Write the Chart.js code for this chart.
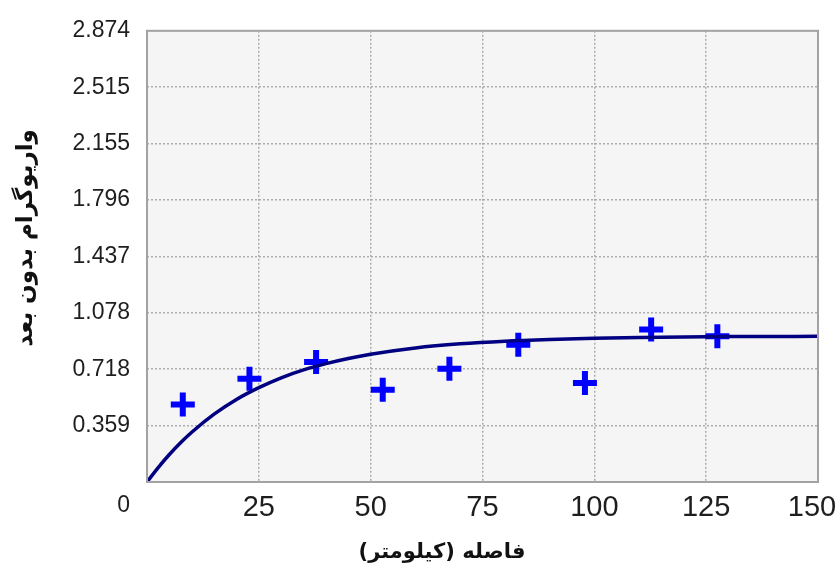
<!DOCTYPE html>
<html>
<head>
<meta charset="utf-8">
<script src="https://cdn.jsdelivr.net/npm/chart.js@4/dist/chart.umd.min.js"></script>
<style>
  html, body { margin: 0; padding: 0; background: #ffffff; }
  #wrap { width: 839px; height: 570px; position: relative; }
</style>
</head>
<body>
<div id="wrap"><canvas id="chart"></canvas></div>
<script>
// Experimental variogram (lag distance in km, dimensionless semivariance)
const lagKm = [8.0, 22.9, 37.8, 52.7, 67.6, 83.0, 97.9, 112.7, 127.5];
const gammaObs = [0.494, 0.658, 0.764, 0.588, 0.722, 0.875, 0.630, 0.971, 0.928];

// Fitted model curve, sampled along the distance axis
const modelKm = [0, 2.5, 5, 7.5, 10, 15, 20, 25, 30, 35, 40, 45, 50, 60, 70, 80, 90, 100, 110, 120, 130, 140, 150];
const modelGamma = [0, 0.092, 0.175, 0.250, 0.317, 0.432, 0.526, 0.601, 0.664, 0.714, 0.754, 0.787, 0.814, 0.854, 0.880, 0.897, 0.908, 0.916, 0.921, 0.924, 0.926, 0.927, 0.928];

// Axis ticks
const xTicks = [0, 25, 50, 75, 100, 125, 150];
const yTickValues = [0, 0.35925, 0.7185, 1.07775, 1.437, 1.79625, 2.1555, 2.51475, 2.874];
const yTickLabels = ['0', '0.359', '0.718', '1.078', '1.437', '1.796', '2.155', '2.515', '2.874'];

const xTitle = 'فاصله (کیلومتر)';
const yTitle = 'واریوگرام بدون بعد';

const tickFontFamily = '"Liberation Sans", Arial, sans-serif';

const frameAndTitles = {
  id: 'frameAndTitles',
  beforeDraw(chart) {
    const { ctx, chartArea: a } = chart;
    // keep the last distance label inside the canvas
    const items = chart.scales.x.getLabelItems();
    const last = items[items.length - 1];
    if (last && !last._nudged) {
      last.options.translation[0] -= 6;
      last._nudged = true;
    }
    // light plot background
    ctx.save();
    ctx.fillStyle = '#f5f5f5';
    ctx.fillRect(a.left, a.top, a.right - a.left, a.bottom - a.top);
    ctx.restore();
  },
  afterDraw(chart) {
    const { ctx, chartArea: a } = chart;
    ctx.save();
    // plot frame
    ctx.strokeStyle = '#a3a3a3';
    ctx.lineWidth = 2;
    ctx.strokeRect(a.left, a.top, a.right - a.left, a.bottom - a.top);

    // shared origin label
    ctx.fillStyle = '#1e1e1e';
    ctx.font = '23px ' + tickFontFamily;
    ctx.textAlign = 'right';
    ctx.textBaseline = 'middle';
    ctx.fillText(yTickLabels[0], 130, a.bottom + 24);

    // axis titles
    ctx.fillStyle = '#111111';
    ctx.textAlign = 'center';
    ctx.textBaseline = 'middle';
    ctx.direction = 'rtl';
    ctx.font = 'bold 21px "DejaVu Sans", sans-serif';
    ctx.fillText(xTitle, 442, 553);
    ctx.font = 'bold 23px "DejaVu Sans", sans-serif';
    ctx.translate(26, 238);
    ctx.rotate(-Math.PI / 2);
    ctx.fillText(yTitle, 0, 0);
    ctx.restore();
  }
};

new Chart(document.getElementById('chart'), {
  type: 'scatter',
  data: {
    datasets: [
      {
        type: 'line',
        data: modelKm.map((x, i) => ({ x, y: modelGamma[i] })),
        borderColor: '#000080',
        borderWidth: 3.5,
        pointRadius: 0,
        fill: false,
        cubicInterpolationMode: 'monotone'
      },
      {
        data: lagKm.map((x, i) => ({ x, y: gammaObs[i] })),
        pointStyle: 'cross',
        pointRadius: 12,
        pointHoverRadius: 12,
        borderWidth: 6,
        borderColor: '#0000ff',
        backgroundColor: '#0000ff'
      }
    ]
  },
  options: {
    responsive: true,
    maintainAspectRatio: false,
    animation: false,
    events: [],
    layout: { padding: { top: 27, right: 21, left: 0, bottom: 0 } },
    plugins: {
      legend: { display: false },
      tooltip: { enabled: false }
    },
    scales: {
      x: {
        type: 'linear',
        min: 0,
        max: 150,
        afterBuildTicks(scale) {
          scale.ticks = xTicks.map(v => ({ value: v }));
        },
        afterFit(scale) {
          scale.height = 88;
          scale.paddingLeft = 0;
          scale.paddingRight = 0;
        },
        ticks: {
          color: '#1e1e1e',
          font: { family: tickFontFamily, size: 29 },
          padding: 9,
          maxRotation: 0,
          autoSkip: false,
          callback: (v) => (v === 0 ? '' : String(v))
        },
        grid: {
          color: '#adadad',
          lineWidth: 1.5,
          drawTicks: false
        },
        border: { display: false, dash: [2, 2] }
      },
      y: {
        min: 0,
        max: 2.874,
        afterBuildTicks(scale) {
          scale.ticks = yTickValues.map(v => ({ value: v }));
        },
        afterFit(scale) {
          scale.width = 147;
        },
        ticks: {
          color: '#1e1e1e',
          font: { family: tickFontFamily, size: 23 },
          padding: 17,
          autoSkip: false,
          callback: (v, i) => (i === 0 ? '' : yTickLabels[i])
        },
        grid: {
          color: '#adadad',
          lineWidth: 1.5,
          drawTicks: false
        },
        border: { display: false, dash: [2, 2] }
      }
    }
  },
  plugins: [frameAndTitles]
});
</script>
</body>
</html>
